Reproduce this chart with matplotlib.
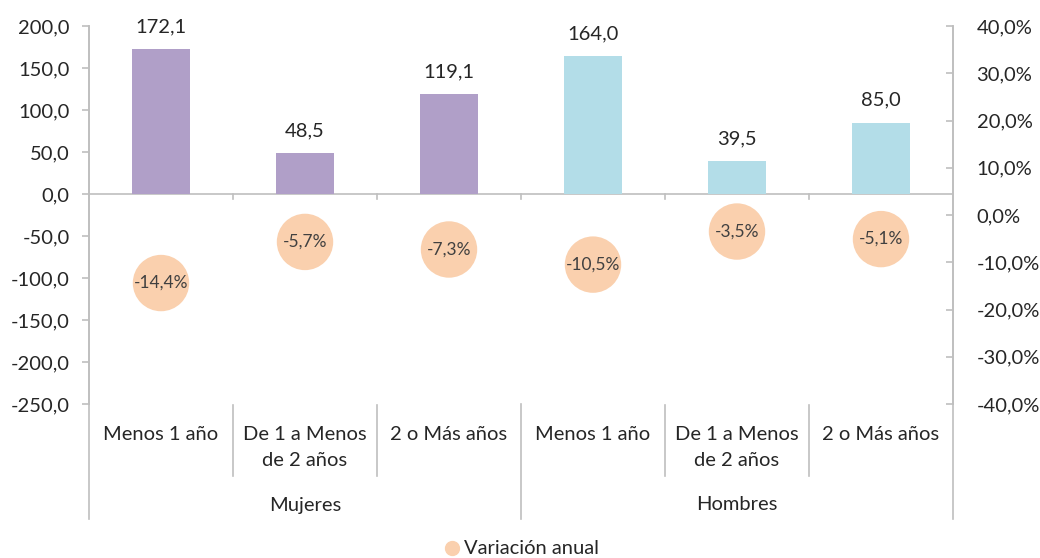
import matplotlib.pyplot as plt
import matplotlib.transforms as mtransforms
from matplotlib.lines import Line2D

plt.rcParams['font.family'] = ['Lato', 'DejaVu Sans']

groups = ['Mujeres', 'Hombres']
categories = ['Menos 1 año', 'De 1 a Menos\nde 2 años', '2 o Más años',
              'Menos 1 año', 'De 1 a Menos\nde 2 años', '2 o Más años']
values = [172.1, 48.5, 119.1, 164.0, 39.5, 85.0]
variation = [-14.4, -5.7, -7.3, -10.5, -3.5, -5.1]
bar_colors = ['#B09FC8'] * 3 + ['#B3DDE8'] * 3

grey = '#BFBFBF'
text_c = '#262626'
fs = 14.5

fig = plt.figure(figsize=(10.4, 5.58), dpi=100)
ax = fig.add_axes([89 / 1040, 154 / 558, 864 / 1040, 378 / 558])
ax2 = ax.twinx()

x = list(range(len(values)))
bars = ax.bar(x, values, width=0.4, color=bar_colors, zorder=2)
for b, v in zip(bars, values):
    ax.annotate(f'{v:.1f}'.replace('.', ','), (b.get_x() + b.get_width() / 2, v),
                xytext=(0, 10), textcoords='offset points',
                ha='center', va='bottom', fontsize=fs, color=text_c)

ax.set_xlim(-0.5, len(values) - 0.5)
ax.set_ylim(-250, 200)
ax.set_yticks(range(-250, 201, 50))
ax.set_yticklabels([f'{t:.1f}'.replace('.', ',') for t in range(-250, 201, 50)],
                   fontsize=fs, color=text_c)
ax.set_xticks([])
ax.axhline(0, color=grey, lw=1.2, zorder=1)
for bnd in [0.5, 1.5, 2.5, 3.5, 4.5]:
    ax.plot([bnd, bnd], [0, -6], color=grey, lw=1.2, zorder=1)

ax2.set_ylim(-40, 40)
ax2.set_yticks(range(-40, 41, 10))
ax2.set_yticklabels([f'{t:.1f}%'.replace('.', ',') for t in range(-40, 41, 10)],
                    fontsize=fs, color=text_c)
ax2.scatter(x, variation, s=1650, color='#FAD0AE', zorder=3, edgecolor='none')
for xi, v in zip(x, variation):
    ax2.text(xi, v, f'{v:.1f}%'.replace('.', ','), ha='center', va='center',
             fontsize=12.5, color='#404040', zorder=4)

for a in (ax, ax2):
    for s in ['top', 'bottom']:
        a.spines[s].set_visible(False)
    a.spines['left'].set_color(grey)
    a.spines['right'].set_color(grey)
    a.spines['left'].set_linewidth(1.2)
    a.spines['right'].set_linewidth(1.2)
    a.tick_params(axis='y', length=5, color=grey, width=1.2)
ax.tick_params(axis='y', pad=9)
ax2.tick_params(axis='y', direction='in', pad=17)

# multi-level category axis below the plot
tr = mtransforms.blended_transform_factory(ax.transData, fig.transFigure)
def fy(py):
    return (558 - py) / 558

for bnd in [0.5, 1.5, 3.5, 4.5]:
    fig.add_artist(Line2D([bnd, bnd], [fy(405), fy(476)], transform=tr,
                          color=grey, lw=1.2))
for bnd in [-0.5, 2.5, 5.5]:
    fig.add_artist(Line2D([bnd, bnd], [fy(404), fy(519)], transform=tr,
                          color=grey, lw=1.2))
for xi, c in zip(x, categories):
    ax.text(xi, fy(426), c, transform=tr, ha='center', va='top',
            fontsize=fs, color=text_c, linespacing=1.65)
for gi, g in enumerate(groups):
    ax.text(gi * 3 + 1, fy(505), g, transform=tr, ha='center', va='center',
            fontsize=fs, color=text_c)

# legend
fig.add_artist(Line2D([452 / 1040], [fy(548)], marker='o', markersize=10,
                      color='#FAD0AE', linestyle='none'))
fig.text(464 / 1040, fy(548), 'Variación anual', ha='left', va='center',
         fontsize=fs, color=text_c)

fig.savefig('out.png', dpi=100)
